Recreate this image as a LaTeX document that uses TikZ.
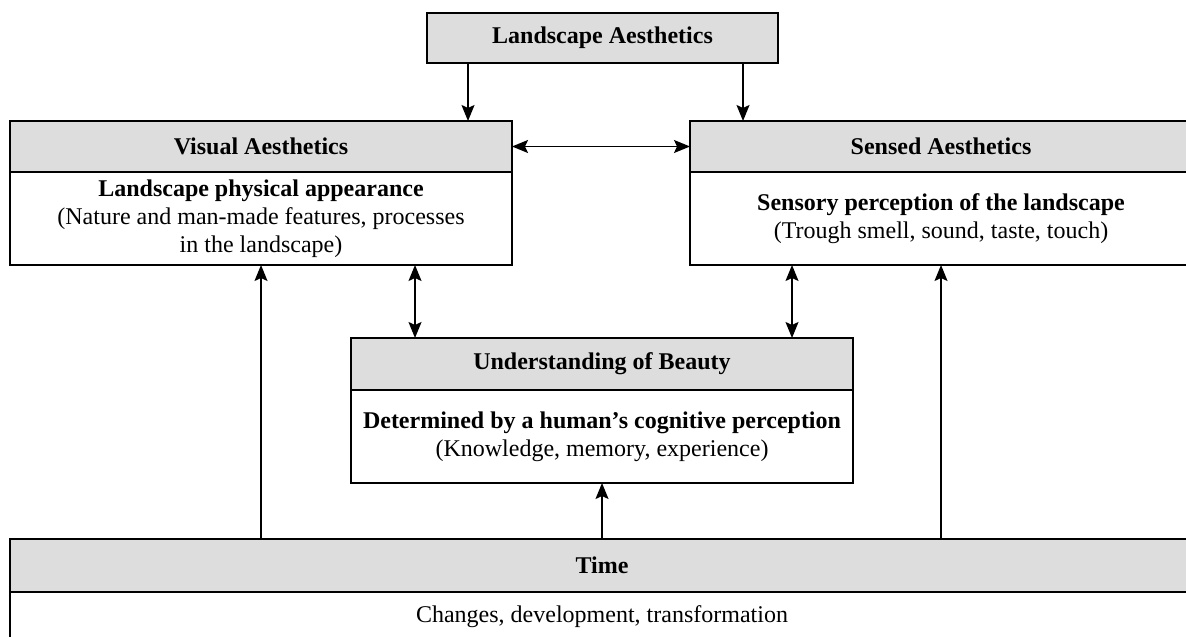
\documentclass[tikz,border=0pt]{standalone}
\usepackage{fontspec}
\setmainfont{Liberation Serif}
\usepackage{xcolor}
\usepackage{tikz}
\usetikzlibrary{arrows.meta,calc,positioning}
\definecolor{headgray}{HTML}{DDDDDD}

\begin{document}
\begin{tikzpicture}[
    font=\fontsize{12}{14}\selectfont,
    head/.style={draw,line width=0.75pt,fill=headgray,outer sep=0pt,
      minimum width=251pt,minimum height=25.5pt,
      font=\fontsize{12}{14}\selectfont\bfseries},
    body/.style={draw,line width=0.75pt,fill=white,outer sep=0pt,
      minimum width=251pt,minimum height=46.5pt,align=center,inner sep=2pt},
    link/.style={-{Stealth[length=8pt,width=6.5pt,inset=1.5pt]},line width=0.75pt},
    twoway/.style={{Stealth[length=8pt,width=6.5pt,inset=1.5pt]}-%
      {Stealth[length=8pt,width=6.5pt,inset=1.5pt]},line width=0.75pt}
  ]
    \useasboundingbox (0,0) rectangle (593pt,-318pt);

    \node[head,minimum width=175.5pt,minimum height=25pt] (land)
      at (301.25pt,-19pt) {Landscape Aesthetics};

    \node[head] (vis) at (130.5pt,-73.25pt) {Visual Aesthetics};
    \node[body,below=0pt of vis] (visb)
      {\textbf{Landscape physical appearance}\\
       (Nature and man-made features, processes\\
       in the landscape)};

    \node[head] (sen) at (470.5pt,-73.25pt) {Sensed Aesthetics};
    \node[body,below=0pt of sen] (senb)
      {\textbf{Sensory perception of the landscape}\\
       (Trough smell, sound, taste, touch)};

    \node[head,minimum height=26pt] (und) at (301pt,-182pt) {Understanding of Beauty};
    \node[body,below=0pt of und] (undb)
      {\textbf{Determined by a human’s cognitive perception}\\
       (Knowledge, memory, experience)};

    \node[head,minimum width=592pt,minimum height=26.5pt] (time)
      at (301pt,-282.75pt) {Time};
    \node[body,minimum width=592pt,minimum height=25pt,below=0pt of time] (timeb)
      {Changes, development, transformation};

    \draw[link] ([xshift=-67.25pt]land.south) -- ([xshift=-67.25pt]land.south |- vis.north);
    \draw[link] ([xshift=70.25pt]land.south) -- ([xshift=70.25pt]land.south |- sen.north);
    \draw[twoway] (vis.east) -- (sen.west);
    \draw[twoway] ([xshift=-93.5pt]und.north) -- ([xshift=-93.5pt]und.north |- visb.south);
    \draw[twoway] ([xshift=95pt]und.north) -- ([xshift=95pt]und.north |- senb.south);
    \draw[link] (time.north -| visb.south) -- (visb.south);
    \draw[link] (time.north -| senb.south) -- (senb.south);
    \draw[link] (time.north -| undb.south) -- (undb.south);
  \end{tikzpicture}
\end{document}
